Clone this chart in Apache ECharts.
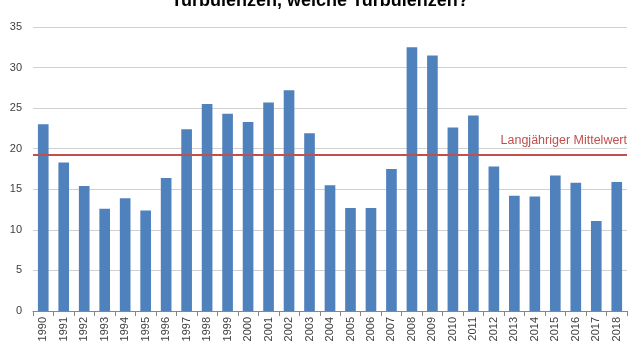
<!DOCTYPE html>
<html><head><meta charset="utf-8">
<script src="https://cdn.jsdelivr.net/npm/echarts@6/dist/echarts.min.js"></script>
<style>html,body{margin:0;padding:0;background:#fff}#c{width:640px;height:360px}</style>
</head><body><div id="c"></div>
<script>
const titleText = 'Turbulenzen, welche Turbulenzen?';
const years = ['1990','1991','1992','1993','1994','1995','1996','1997','1998','1999','2000','2001','2002','2003','2004','2005','2006','2007','2008','2009','2010','2011','2012','2013','2014','2015','2016','2017','2018'];
const values = [23.0,18.3,15.4,12.6,13.9,12.4,16.4,22.4,25.5,24.3,23.3,25.7,27.2,21.9,15.5,12.7,12.7,17.5,32.5,31.5,22.6,24.1,17.8,14.2,14.1,16.7,15.8,11.1,15.9];
const meanValue = 19.3;
const meanLabel = 'Langjähriger Mittelwert';
const yTicks = [0,5,10,15,20,25,30,35];

const chart = echarts.init(document.getElementById('c'), null, {renderer:'canvas'});
chart.setOption({
  animation:false,
  title:{text:titleText,left:'center',top:-13,textStyle:{fontFamily:'Liberation Sans',fontWeight:'bold',fontSize:18,color:'#000'}},
  grid:{left:33,right:13,top:27,bottom:49,containLabel:false},
  xAxis:{type:'category',data:years,
    axisLine:{lineStyle:{color:'#868686'}},
    axisTick:{show:true,alignWithLabel:false,length:5,lineStyle:{color:'#868686'}},
    axisLabel:{rotate:90,interval:0,fontFamily:'Liberation Sans',fontSize:11,color:'#404040',margin:6}},
  yAxis:{type:'value',min:yTicks[0],max:yTicks[yTicks.length-1],interval:5,
    axisLine:{show:false},axisTick:{show:false},
    splitLine:{lineStyle:{color:'#D0D0D0'}},
    axisLabel:{fontFamily:'Liberation Sans',fontSize:11,color:'#404040',margin:11}},
  series:[{type:'bar',data:values,barWidth:'52%',itemStyle:{color:'#4F81BD'},
    markLine:{symbol:'none',silent:true,
      lineStyle:{color:'#C0504D',width:2,type:'solid'},
      label:{show:true,position:'insideEndTop',formatter:meanLabel,color:'#C0504D',fontFamily:'Liberation Sans',fontSize:12.5,distance:[0,7]},
      data:[{yAxis:meanValue}]}}]
});
</script></body></html>
